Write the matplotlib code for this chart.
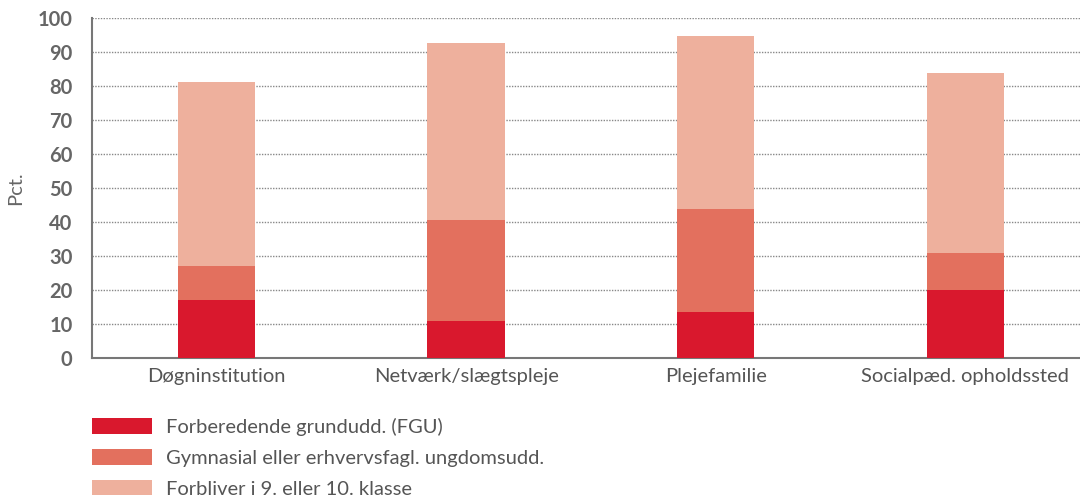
import matplotlib
matplotlib.use("Agg")
import matplotlib.pyplot as plt
import numpy as np

plt.rcParams['font.family'] = ['Lato', 'DejaVu Sans']

categories = ['Døgninstitution', 'Netværk/slægtspleje', 'Plejefamilie', 'Socialpæd. opholdssted']
fgu = [17, 11, 13.5, 20]
gym = [10, 29.6, 30.3, 11]
forbliver = [54.2, 52, 50.9, 52.8]
labels = ['Forberedende grundudd. (FGU)', 'Gymnasial eller erhvervsfagl. ungdomsudd.',
          'Forbliver i 9. eller 10. klasse']
colors = ['#D9182D', '#E3705E', '#EEB09D']

fig = plt.figure(figsize=(10.8, 4.95), dpi=100)
ax = fig.add_axes([92 / 1080, 1 - 358 / 495, (1080 - 92) / 1080, 340 / 495])

x = np.arange(len(categories))
w = 0.31
b1 = ax.bar(x, fgu, w, color=colors[0], label=labels[0], zorder=3)
b2 = ax.bar(x, gym, w, bottom=fgu, color=colors[1], label=labels[1], zorder=3)
bottom2 = np.array(fgu) + np.array(gym)
b3 = ax.bar(x, forbliver, w, bottom=bottom2, color=colors[2], label=labels[2], zorder=3)

ax.set_xlim(-0.499, 3.46)
ax.set_ylim(0, 100)
ax.set_yticks(range(0, 101, 10))
ax.set_xticks(x)
ax.set_xticklabels(categories, fontsize=14.5, color='#555555')
for t in ax.get_yticklabels():
    t.set_fontweight('bold')
    t.set_fontsize(14.5)
    t.set_color('#666666')
ax.tick_params(axis='both', length=0)
ax.tick_params(axis='x', pad=7)
ax.tick_params(axis='y', pad=14)
ax.grid(axis='y', linestyle=(0, (1, 1)), color='#888888', linewidth=1, zorder=0)
for s in ['top', 'right']:
    ax.spines[s].set_visible(False)
for s in ['left', 'bottom']:
    ax.spines[s].set_color('#777777')
    ax.spines[s].set_linewidth(1.5)
ax.set_ylabel('Pct.', fontsize=14.5, color='#666666', labelpad=10)

fig.legend(handles=[b1, b2, b3], labels=labels, loc='upper left',
           bbox_to_anchor=(92 / 1080, 1 - 418 / 495), frameon=False,
           borderpad=0, borderaxespad=0,
           fontsize=14.5, handlelength=3.0, handleheight=0.8,
           labelspacing=0.65, handletextpad=0.65, labelcolor='#555555')

fig.savefig('out.png', dpi=100)
